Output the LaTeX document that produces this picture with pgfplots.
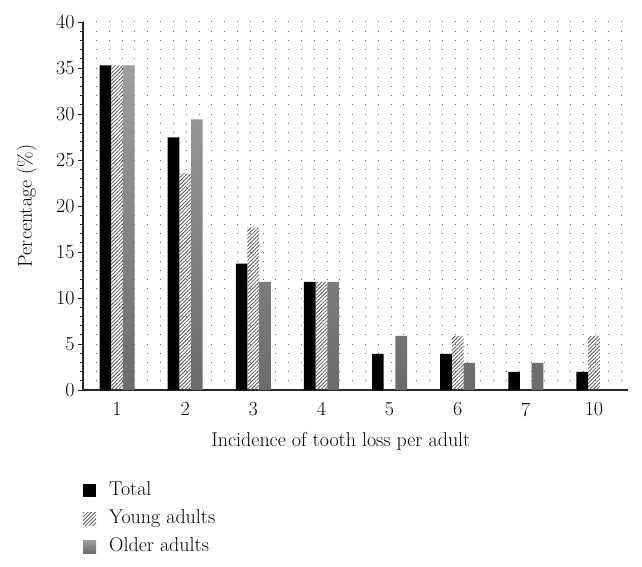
\documentclass[border=0pt]{standalone}
\usepackage{pgfplots}
\pgfplotsset{compat=1.18}
\usetikzlibrary{patterns.meta}
\begin{document}
\begin{tikzpicture}
\path[use as bounding box] (-83bp,-177bp) rectangle (559bp,390bp);
\begin{axis}[
  scale only axis, width=545bp, height=368bp,
  xmin=-0.5, xmax=7.5, ymin=0, ymax=40,
  axis lines=left, axis line style={-, line width=1.1bp, black!85},
  ybar=0pt, bar width=11.7bp,
  ytick={0,5,...,40}, minor y tick num=4,
  tick align=outside, major tick length=5bp, minor tick length=2.5bp,
  ytick style={line width=0.8bp, black!85},
  xtick={0,...,7}, xticklabels={1,2,3,4,5,6,7,10},
  xtick style={draw=none},
  ymajorgrids, yminorgrids,
  major grid style={black!60, line width=1bp, dash pattern=on 1bp off 11.8bp, dash phase=12.5bp},
  minor grid style={black!60, line width=1bp, dash pattern=on 1bp off 11.8bp, dash phase=12.5bp},
  /pgf/number format/assume math mode=true,
  tick label style={font=\fontsize{20bp}{24bp}\selectfont},
  x tick label style={yshift=-4bp},
  label style={font=\fontsize{20bp}{24bp}\selectfont},
  xlabel={Incidence of tooth loss per adult},
  ylabel={Percentage (\%)},
  xlabel style={at={(axis description cs:0.473,-0.140)}, anchor=center},
  ylabel style={at={(axis description cs:-0.103,0.5)}, anchor=center},
  legend style={at={(axis description cs:0.0,-0.243)}, anchor=north west, draw=none, fill=none,
    inner sep=0pt, row sep=6bp, font=\fontsize{20bp}{24bp}\selectfont,
    nodes={text height=14bp, text depth=4bp, inner sep=2bp}},
  legend cell align=left,
  mylegend/.style={legend image code/.code={\path[##1] (0bp,-6.5bp) rectangle (13bp,6.5bp);\path (24bp,0bp);}},
]
\addplot[fill=black, draw=none, mylegend] coordinates {
  (0,35.29) (1,27.45) (2,13.73) (3,11.76) (4,3.92) (5,3.92) (6,1.96) (7,1.96)};
\addlegendentry{Total}
\addplot[draw=none, pattern={Lines[angle=45, distance=2.6bp, line width=0.8bp]}, pattern color=black!65, mylegend] coordinates {
  (0,35.29) (1,23.53) (2,17.65) (3,11.76) (5,5.88) (7,5.88)};
\addlegendentry{Young adults}
\addplot[draw=none, top color=black!38, bottom color=black!58, mylegend] coordinates {
  (0,35.29) (1,29.41) (2,11.76) (3,11.76) (4,5.88) (5,2.94) (6,2.94)};
\addlegendentry{Older adults}
\end{axis}
\end{tikzpicture}
\end{document}
